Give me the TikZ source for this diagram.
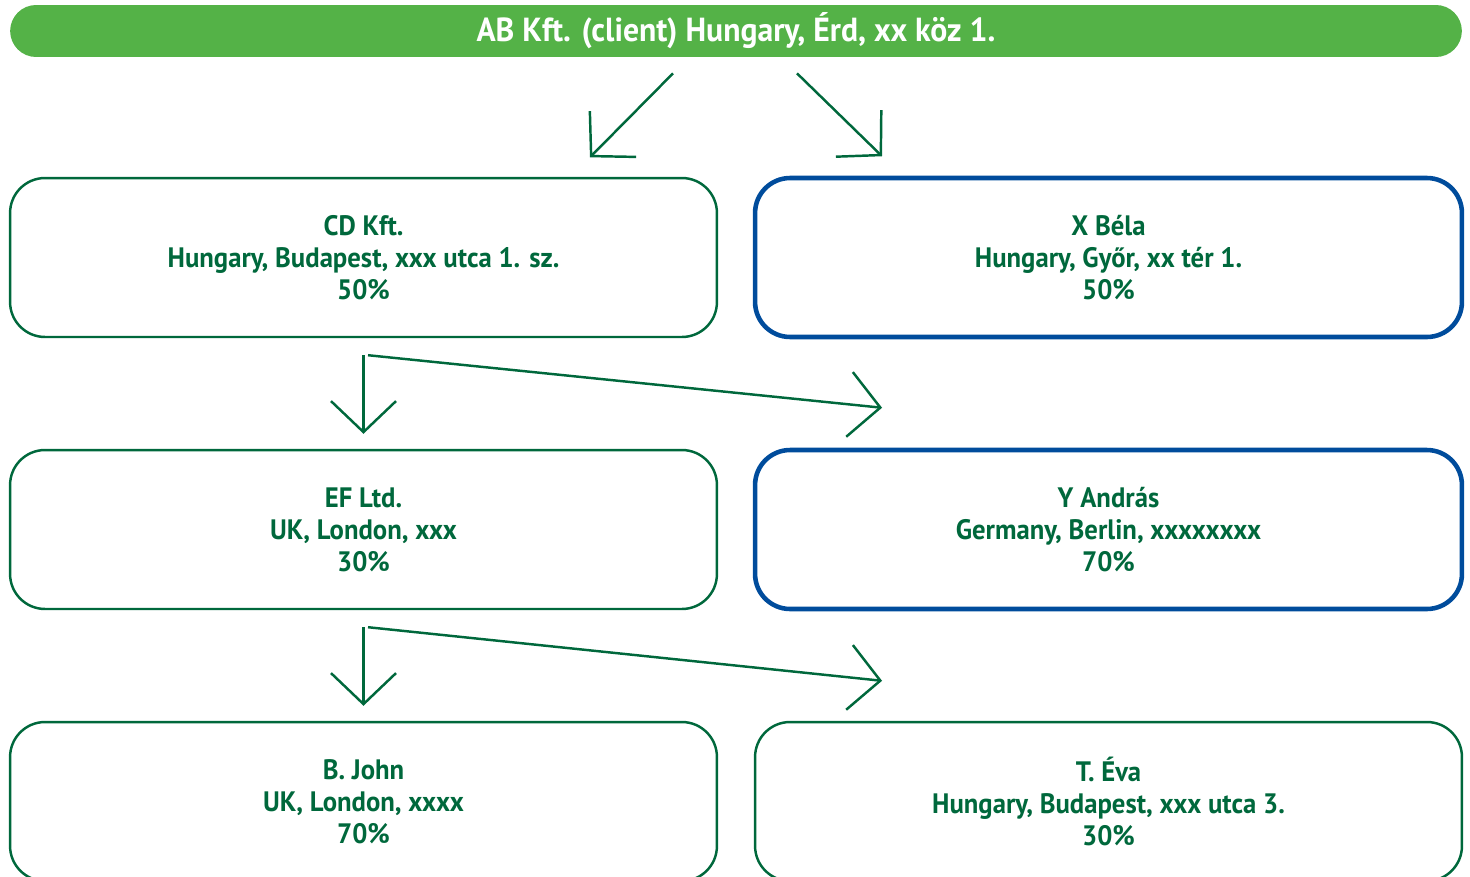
\documentclass[tikz,border=0pt]{standalone}
\usepackage{fontspec}
\setmainfont{PT Sans}[FakeStretch=0.95]
\usepackage{tikz}
\usetikzlibrary{arrows.meta}

\definecolor{dgreen}{RGB}{0,104,60}
\definecolor{lgreen}{RGB}{84,178,71}
\definecolor{dblue}{RGB}{0,76,156}

\tikzset{
	owner/.style={draw=dgreen,line width=1.4pt,rounded corners=0.7cm,minimum width=14.14cm,minimum height=3.18cm,align=center,text=dgreen,font=\bfseries\fontsize{16}{18.2}\selectfont,execute at begin node={\vphantom{É}}},
	person/.style={owner,draw=dblue,line width=2.6pt},
	client/.style={fill=lgreen,rounded corners=0.52cm,minimum width=29.04cm,minimum height=1.04cm,text=white,font=\bfseries\fontsize{19}{21}\selectfont},
	share/.style={draw=dgreen,line width=1.4pt,-{Straight Barb[length=0.62cm,width=1.3cm]}}
}

\begin{document}
\begin{tikzpicture}[x=0.02cm,y=-0.02cm]
	\clip (0,0) rectangle (1470,876);
	
	\node (ab) [client] at (736,31) {AB Kft. (client) Hungary, Érd, xx köz 1.};
	
	\node (cd) [owner] at (363.5,257.5) {CD Kft.\\Hungary, Budapest, xxx utca 1. sz.\\50\%};
	\node (xbela) [person] at (1108.5,257.5) {X Béla\\Hungary, Győr, xx tér 1.\\50\%};
	\node (ef) [owner] at (363.5,529.5) {EF Ltd.\\UK, London, xxx\\30\%};
	\node (yandras) [person] at (1108.5,529.5) {Y András\\Germany, Berlin, xxxxxxxx\\70\%};
	\node (bjohn) [owner] at (363.5,801.5) {B. John\\UK, London, xxxx\\70\%};
	\node (teva) [owner] at (1108.5,801.5) {T. Éva\\Hungary, Budapest, xxx utca 3.\\30\%};
	
	\draw [share] ([xshift=-1.26cm,yshift=-0.32cm]ab.south) -- ([xshift=4.53cm,yshift=0.39cm]cd.north);
	\draw [share] ([xshift=1.22cm,yshift=-0.32cm]ab.south) -- ([xshift=-4.53cm,yshift=0.39cm]xbela.north);
	
	\foreach \src/\down/\side in {cd/ef/yandras, ef/bjohn/teva}{
		\draw [share] ([yshift=-0.34cm]\src.south) -- ([yshift=0.3cm]\down.north);
		\draw [share] ([xshift=0.09cm,yshift=-0.34cm]\src.south) -- ([xshift=-4.53cm,yshift=0.8cm]\side.north);
	}
	
\end{tikzpicture}
\end{document}
